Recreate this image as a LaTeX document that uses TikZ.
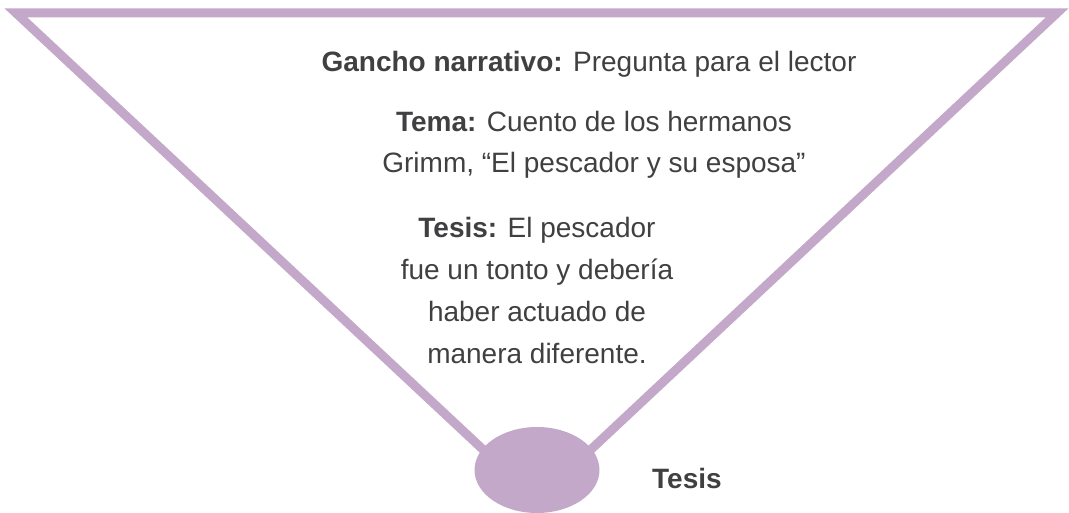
\documentclass[tikz,border=0pt]{standalone}
\usepackage{fontspec}
\setmainfont{Liberation Sans}
\usetikzlibrary{shapes.geometric}
\definecolor{lilac}{RGB}{195,168,201}
\definecolor{inkgray}{RGB}{64,64,66}

\begin{document}
\begin{tikzpicture}[
    x=1pt, y=-1pt,
    funnel/.style={draw=lilac, line width=9pt, line join=miter},
    blurb/.style={text=inkgray, align=center, inner sep=0pt, anchor=base, font=\fontsize{28}{41}\selectfont},
    dot/.style={ellipse, fill=lilac, minimum width=125pt, minimum height=86pt, inner sep=0pt}
]
\useasboundingbox (0,0) rectangle (1069,513);

% Funnel
\coordinate (topleft) at (16,13);
\coordinate (topright) at (1057,13);
\coordinate (tip) at (537,500);
\draw[funnel] (topleft) -- (topright) -- (tip) -- cycle;

% Thesis dot
\node[dot] (thesisdot) at (537,470) {};
\node[blurb, anchor=base west] (thesislabel) at (652,488) {\textbf{Tesis}};

% Texts (base = last line)
\node[blurb] (hook) at (589,72) {\textbf{Gancho narrativo:} Pregunta para el lector};
\node[blurb] (topic) at (594,173) {\textbf{Tema:} Cuento de los hermanos\\Grimm, “El pescador y su esposa”};
\node[blurb, font=\fontsize{28}{42}\selectfont] (thesis) at (537,363) {\textbf{Tesis:} El pescador\\fue un tonto y debería\\haber actuado de\\manera diferente.};
\end{tikzpicture}
\end{document}
